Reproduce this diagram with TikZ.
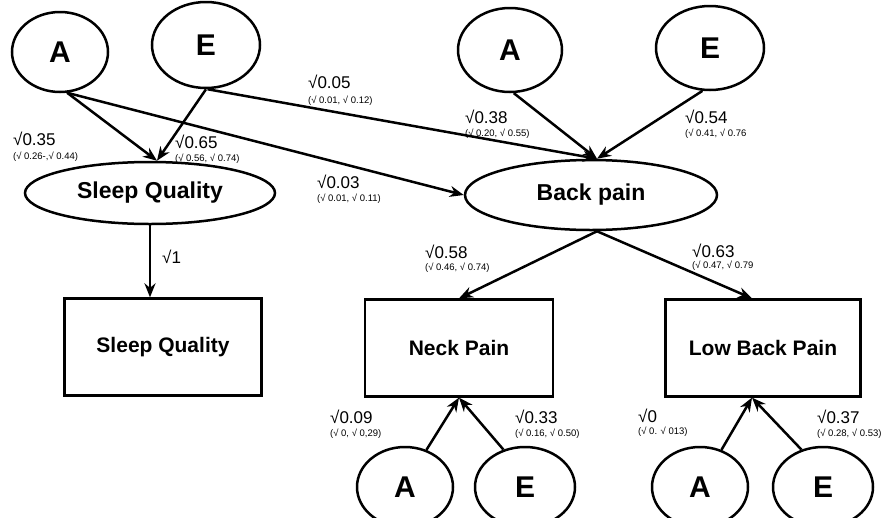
\documentclass[tikz,border=0pt]{standalone}
\usepackage{fontspec}
\setmainfont{Liberation Sans}
\usetikzlibrary{shapes.geometric,arrows.meta}
\begin{document}
\begin{tikzpicture}[x=1pt,y=-1pt,
  lat/.style={ellipse,draw,line width=2.5pt,inner sep=0pt,font=\bfseries\fontsize{30}{30}\selectfont},
  latwide/.style={lat,font=\bfseries\fontsize{23}{23}\selectfont},
  obs/.style={rectangle,draw,line width=2.3pt,minimum width=197pt,minimum height=97pt,inner sep=0pt,font=\bfseries\fontsize{21}{21}\selectfont},
  arr/.style={-{Stealth[length=14pt,width=11pt]},line width=2.5pt},
  big/.style={anchor=base west,inner sep=0pt,font=\fontsize{17}{17}\selectfont},
  small/.style={anchor=base west,inner sep=0pt,font=\fontsize{9.5}{9.5}\selectfont}]
\clip (0,0) rectangle (883,517);
\fill[white] (0,0) rectangle (883,517);
% latent nodes
\node[lat,minimum width=96pt,minimum height=80pt] (a1) at (60,52) {A};
\node[lat,minimum width=108pt,minimum height=86pt] (e1) at (206,45) {E};
\node[latwide,minimum width=250pt,minimum height=62pt] (sq) at (150,193) {Sleep Quality};
\node[lat,minimum width=104pt,minimum height=84pt] (a2) at (510,50) {A};
\node[lat,minimum width=108pt,minimum height=84pt] (e2) at (710,48) {E};
\node[latwide,minimum width=252pt,minimum height=70pt] (bp) at (591,195) {Back pain};
\node[lat,minimum width=96pt,minimum height=80pt] (a3) at (405,487) {A};
\node[lat,minimum width=100pt,minimum height=80pt] (e3) at (525,487) {E};
\node[lat,minimum width=96pt,minimum height=80pt] (a4) at (700,487) {A};
\node[lat,minimum width=100pt,minimum height=80pt] (e4) at (823,487) {E};
% observed
\node[obs] (sqo) at (163,347) {Sleep Quality};
\node[obs,minimum width=188pt] (np) at (459,348) {Neck Pain};
\node[obs,minimum width=195pt] (lbp) at (763,348) {Low Back Pain};
% arrows
\draw[arr] (a1.-80) -- ([xshift=7pt]sq.north);
\draw[arr] (e1.-90) -- ([xshift=7pt]sq.north);
\draw[arr] (a1.-80) -- (bp.west);
\draw[arr] (e1.-88) -- ([xshift=6pt]bp.north);
\draw[arr] (a2.-85) -- ([xshift=6pt]bp.north);
\draw[arr] (e2.-100) -- ([xshift=6pt]bp.north);
\draw[arr] (sq.south) -- (sqo.north -| sq.south);
\draw[arr] ([xshift=6pt]bp.south) -- (np.north);
\draw[arr] ([xshift=6pt]bp.south) -- ([xshift=-11pt]lbp.north);
\draw[arr] (a3.60) -- (np.south);
\draw[arr] (e3.120) -- (np.south);
\draw[arr] (a4.60) -- ([xshift=-11pt]lbp.south);
\draw[arr] (e4.120) -- ([xshift=-11pt]lbp.south);
% labels
\node[big] (l1) at (13,145) {√0.35};
\node[small] (s1) at (13,159) {(√ 0.26-,√ 0.44)};
\node[big] (l2) at (175,148) {√0.65};
\node[small] (s2) at (175,161) {(√ 0.56, √ 0.74)};
\node[big] (l3) at (308,88) {√0.05};
\node[small] (s3) at (308,103) {(√ 0.01, √ 0.12)};
\node[big] (l4) at (317,188) {√0.03};
\node[small] (s4) at (317,201) {(√ 0.01, √ 0.11)};
\node[big] (l5) at (465,123) {√0.38};
\node[small] (s5) at (465,136) {(√ 0.20, √ 0.55)};
\node[big] (l6) at (685,123) {√0.54};
\node[small] (s6) at (685,136) {(√ 0.41, √ 0.76};
\node[big] (l7) at (162,263) {√1};
\node[big] (l8) at (425,258) {√0.58};
\node[small] (s8) at (425,270) {(√ 0.46, √ 0.74)};
\node[big] (l9) at (692,257) {√0.63};
\node[small] (s9) at (692,268) {(√ 0.47, √ 0.79};
\node[big] (l10) at (330,423) {√0.09};
\node[small] (s10) at (330,436) {(√ 0, √ 0,29)};
\node[big] (l11) at (515,423) {√0.33};
\node[small] (s11) at (515,436) {(√ 0.16, √ 0.50)};
\node[big] (l12) at (638,422) {√0};
\node[small] (s12) at (638,434) {(√ 0. √ 013)};
\node[big] (l13) at (817,423) {√0.37};
\node[small] (s13) at (817,436) {(√ 0.28, √ 0.53)};
\end{tikzpicture}
\end{document}
